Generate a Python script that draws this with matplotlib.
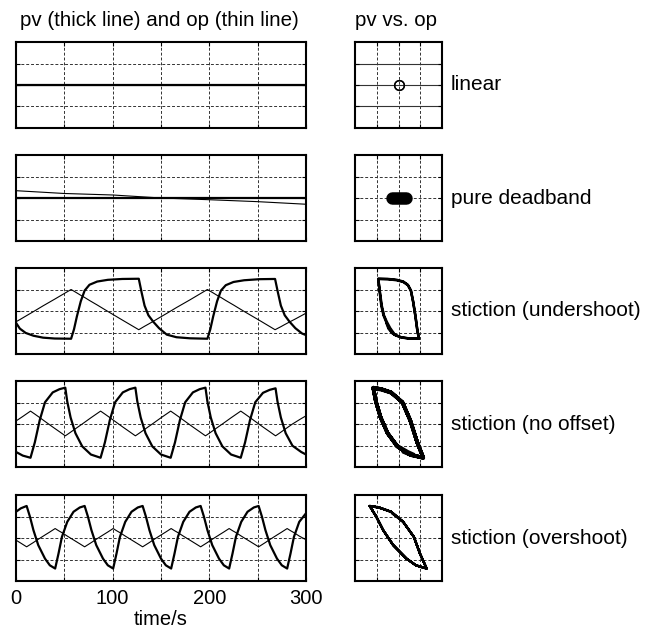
import numpy as np
import matplotlib
matplotlib.use('Agg')
import matplotlib.pyplot as plt

plt.rcParams['font.family'] = ['Liberation Sans', 'DejaVu Sans']

# ---- data ----
# row 1: linear
t1 = [0, 300]
op1 = [0.0, 0.0]
pv1 = [0.0, 0.0]

# row 2: pure deadband
t2 = [0, 50, 100, 150, 200, 250, 300]
op2 = [0.34, 0.21, 0.14, 0.0, -0.08, -0.17, -0.29]
pv2 = [0.0, 0.0, 0.0, 0.0, 0.0, 0.0, 0.0]

# row 3: stiction (undershoot)
t3 = [0, 4, 10, 18, 28, 40, 57, 60, 63, 67, 71, 76, 84, 95, 110, 127,
      130, 133, 137, 142, 148, 156, 166, 180, 198, 201, 204, 208, 212, 217,
      225, 236, 252, 268, 271, 274, 278, 283, 289, 296, 300]
op3 = [-0.50, -0.40, -0.24, -0.03, 0.24, 0.55, 1.00, 0.92, 0.84, 0.73, 0.63,
       0.49, 0.28, -0.02, -0.42, -0.87, -0.79, -0.71, -0.61, -0.48, -0.32,
       -0.11, 0.16, 0.52, 1.00, 0.92, 0.84, 0.73, 0.63, 0.49, 0.28, -0.02,
       -0.44, -0.87, -0.80, -0.73, -0.63, -0.51, -0.37, -0.20, -0.10]
pv3 = [-0.55, -0.82, -1.02, -1.15, -1.24, -1.28, -1.29, -0.85, -0.25, 0.45,
       0.95, 1.22, 1.37, 1.45, 1.49, 1.50, 0.85, 0.25, -0.20, -0.50, -0.80,
       -1.10, -1.22, -1.27, -1.29, -0.85, -0.25, 0.45, 0.95, 1.20, 1.35, 1.43,
       1.48, 1.49, 0.85, 0.25, -0.20, -0.50, -0.80, -1.05, -1.12]

# row 4: stiction (no offset)
t4 = [0, 7,
      15, 19.5, 24.5, 30, 38, 45, 51, 53, 56.5, 61.5, 68.5, 77.5,
      87.5, 92, 97, 102.5, 110.5, 117.5, 123.5, 125.5, 129, 134, 141, 150,
      160, 164.5, 169.5, 175, 183, 190, 196, 198, 201.5, 206.5, 213.5, 222.5,
      232.5, 237, 242, 247.5, 255.5, 262.5, 268.5, 270.5, 274, 279, 286, 295,
      300]
op4 = [0.14, 0.35,
       0.60, 0.46, 0.30, 0.12, -0.14, -0.36, -0.55, -0.49, -0.38, -0.22, 0.00, 0.29,
       0.60, 0.46, 0.30, 0.12, -0.14, -0.36, -0.55, -0.49, -0.38, -0.22, 0.00, 0.29,
       0.60, 0.46, 0.30, 0.12, -0.14, -0.36, -0.55, -0.49, -0.38, -0.22, 0.00, 0.29,
       0.60, 0.46, 0.30, 0.12, -0.14, -0.36, -0.55, -0.49, -0.38, -0.22, 0.00, 0.25,
       0.38]
pv4 = [-1.30, -1.47,
       -1.57, -0.85, 0.17, 1.01, 1.47, 1.62, 1.69, 1.05, 0.30, -0.43, -1.04, -1.42,
       -1.57, -0.85, 0.17, 1.01, 1.47, 1.62, 1.69, 1.05, 0.30, -0.43, -1.04, -1.42,
       -1.57, -0.85, 0.17, 1.01, 1.47, 1.62, 1.69, 1.05, 0.30, -0.43, -1.04, -1.42,
       -1.57, -0.85, 0.17, 1.01, 1.45, 1.59, 1.66, 1.05, 0.30, -0.43, -1.01, -1.30,
       -1.42]

# row 5: stiction (overshoot)
t5 = [0, 5,
      11, 14.5, 18, 23, 30, 35, 40.5, 44, 47.5, 53, 59.5, 66,
      71, 74.5, 78, 83, 90, 95, 100.5, 104, 107.5, 113, 119.5, 126,
      131, 134.5, 138, 143, 150, 155, 160.5, 164, 167.5, 173, 179.5, 186,
      191, 194.5, 198, 203, 210, 215, 220.5, 224, 227.5, 233, 239.5, 246,
      251, 254.5, 258, 263, 270, 275, 280.5, 284, 287.5, 293, 300]
op5 = [-0.10, -0.24,
       -0.41, -0.31, -0.21, -0.06, 0.14, 0.28, 0.44, 0.34, 0.25, 0.09, -0.09, -0.27,
       -0.41, -0.31, -0.21, -0.06, 0.14, 0.28, 0.44, 0.34, 0.25, 0.09, -0.09, -0.27,
       -0.41, -0.31, -0.21, -0.06, 0.14, 0.28, 0.44, 0.34, 0.25, 0.09, -0.09, -0.27,
       -0.41, -0.31, -0.21, -0.06, 0.14, 0.28, 0.44, 0.34, 0.25, 0.09, -0.09, -0.27,
       -0.41, -0.31, -0.21, -0.06, 0.14, 0.28, 0.44, 0.34, 0.25, 0.09, -0.08]
pv5 = [1.22, 1.38,
       1.49, 0.98, 0.37, -0.33, -0.96, -1.27, -1.42, -0.72, 0.05, 0.75, 1.22, 1.42,
       1.49, 0.98, 0.37, -0.33, -0.96, -1.27, -1.42, -0.72, 0.05, 0.75, 1.22, 1.42,
       1.49, 0.98, 0.37, -0.33, -0.96, -1.27, -1.42, -0.72, 0.05, 0.75, 1.22, 1.42,
       1.49, 0.98, 0.37, -0.33, -0.96, -1.27, -1.42, -0.72, 0.05, 0.75, 1.22, 1.42,
       1.49, 0.98, 0.37, -0.33, -0.96, -1.27, -1.42, -0.72, 0.05, 0.75, 1.15]

labels = ['linear', 'pure deadband', 'stiction (undershoot)',
          'stiction (no offset)', 'stiction (overshoot)']
xtick_labels = ['0', '', '100', '', '200', '', '300']

times = [t1, t2, t3, t4, t5]
ops = [op1, op2, op3, op4, op5]
pvs = [pv1, pv2, pv3, pv4, pv5]
phase_xlim = [(-2, 2), (-2, 2), (-1.94, 2.06), (-0.97, 1.03), (-0.63, 0.67)]
phase_lw = [1.0, 9.0, 1.8, 2.6, 1.6]

W, H = 651, 630
fig = plt.figure(figsize=(W / 100, H / 100), dpi=100)

tops = [42, 155, 268, 381, 495]
ph = 86
grid_kw = dict(color='#333333', linestyle=(0, (3, 2)), linewidth=0.7)


def style(ax):
    for s in ax.spines.values():
        s.set_linewidth(1.5)
    ax.tick_params(direction='in', length=3, width=0.8, top=True, right=True,
                   labelsize=14.5, pad=6)
    ax.grid(True, **grid_kw)
    ax.set_axisbelow(True)


for i in range(5):
    bottom = 1 - (tops[i] + ph) / H
    # time series
    ax = fig.add_axes([16 / W, bottom, 290 / W, ph / H])
    ax.plot(times[i], ops[i], color='black', linewidth=0.8)
    ax.plot(times[i], pvs[i], color='black', linewidth=1.6)
    ax.set_xlim(0, 300)
    ax.set_ylim(-2, 2)
    ax.set_xticks(np.arange(0, 301, 50))
    ax.set_yticks([-1, 0, 1])
    ax.set_yticklabels([])
    if i == 4:
        ax.set_xticklabels(xtick_labels)
        ax.set_xlabel('time/s', fontsize=14.5, labelpad=1)
    else:
        ax.set_xticklabels([])
    style(ax)

    # pv vs op
    ax2 = fig.add_axes([355 / W, bottom, 87 / W, ph / H])
    if i == 0:
        ax2.plot(ops[i], pvs[i], 'o', markersize=7, markerfacecolor='none',
                 markeredgecolor='black', markeredgewidth=1.0)
    else:
        ax2.plot(ops[i], pvs[i], color='black', linewidth=phase_lw[i],
                 solid_capstyle='round', solid_joinstyle='round')
    x0, x1 = phase_xlim[i]
    ax2.set_xlim(x0, x1)
    ax2.set_ylim(-2, 2)
    ax2.set_xticks(np.linspace(x0, x1, 5)[1:-1])
    ax2.set_yticks([-1, 0, 1])
    ax2.set_xticklabels([])
    ax2.set_yticklabels([])
    style(ax2)
    if i == 0:
        ax2.grid(False, axis='y')
        for yv in [-1, 0, 1]:
            ax2.axhline(yv, color='#333333', linewidth=0.8, zorder=0)
    fig.text(451 / W, 1 - (tops[i] + ph / 2) / H, labels[i], fontsize=15,
             va='center', ha='left')

fig.text(20 / W, 1 - 20 / H, 'pv (thick line) and op (thin line)',
         fontsize=14.8, va='center', ha='left')
fig.text(355 / W, 1 - 20 / H, 'pv vs. op', fontsize=14.8, va='center', ha='left')

fig.savefig('out.png', dpi=100)
